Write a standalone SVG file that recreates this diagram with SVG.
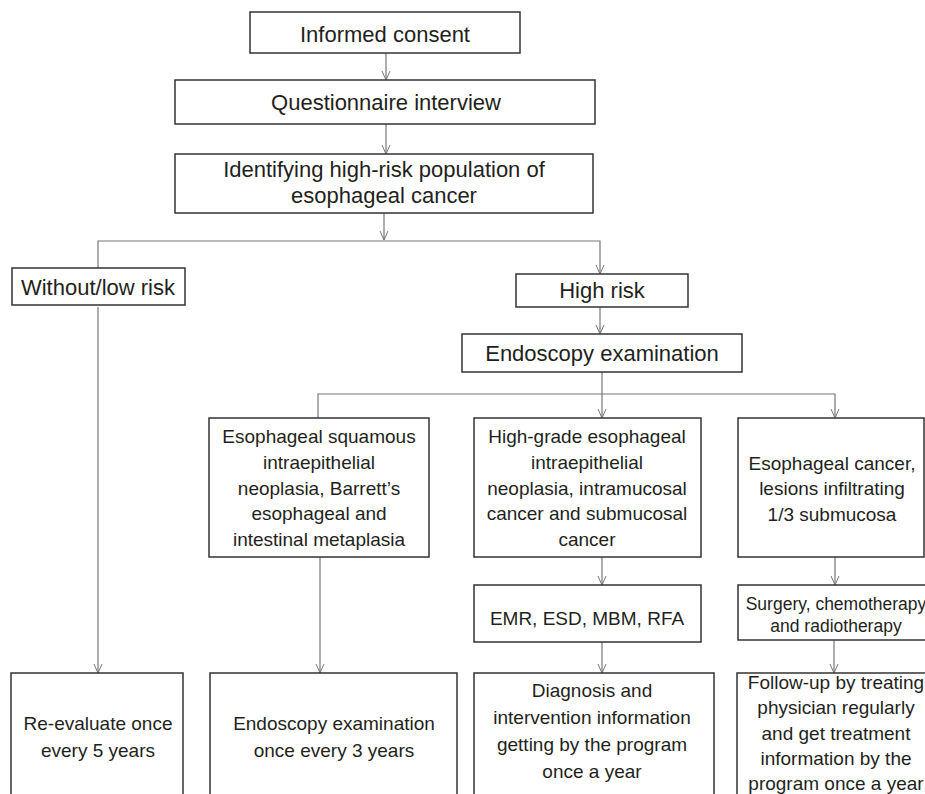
<svg xmlns="http://www.w3.org/2000/svg" width="925" height="794" viewBox="0 0 925 794">
<defs>
<marker id="arr" viewBox="0 0 10 10" refX="10" refY="5" markerWidth="10" markerHeight="10" markerUnits="userSpaceOnUse" orient="auto">
<path d="M1,1 L10,5 L1,9" fill="none" stroke="#777" stroke-width="1"/>
</marker>
<style>
.box{fill:#fff;stroke:#333;stroke-width:1.5}
.t{font-family:"Liberation Sans",Arial,sans-serif;fill:#231f20;text-anchor:middle}
.l{font-size:22px}
.m{font-size:19px}
.s{font-size:17.5px}
.c{fill:none;stroke:#777;stroke-width:1.2}
</style>
</defs>
<rect width="925" height="794" fill="#fff"/>
<g id="connectors">
<line class="c" x1="386" y1="53" x2="386" y2="80" marker-end="url(#arr)"/>
<line class="c" x1="386" y1="124" x2="386" y2="154" marker-end="url(#arr)"/>
<line class="c" x1="384" y1="213" x2="384" y2="240" marker-end="url(#arr)"/>
<polyline class="c" points="98,268 98,241 600,241 600,274" marker-end="url(#arr)"/>
<line class="c" x1="600" y1="307" x2="600" y2="334" marker-end="url(#arr)"/>
<line class="c" x1="602" y1="372" x2="602" y2="418" marker-end="url(#arr)"/>
<polyline class="c" points="318,418 318,394 835,394 835,418" marker-end="url(#arr)"/>
<line class="c" x1="98" y1="307" x2="98" y2="673" marker-end="url(#arr)"/>
<line class="c" x1="320" y1="557" x2="320" y2="673" marker-end="url(#arr)"/>
<line class="c" x1="602" y1="557" x2="602" y2="585" marker-end="url(#arr)"/>
<line class="c" x1="835" y1="557" x2="835" y2="585" marker-end="url(#arr)"/>
<line class="c" x1="602" y1="642" x2="602" y2="673" marker-end="url(#arr)"/>
<line class="c" x1="834" y1="640" x2="834" y2="673" marker-end="url(#arr)"/>
</g>
<g id="n1"><rect class="box" x="250" y="12" width="270" height="41"/><text class="t l" x="385" y="42">Informed consent</text></g>
<g id="n2"><rect class="box" x="175" y="80" width="420" height="44"/><text class="t l" x="386" y="110">Questionnaire interview</text></g>
<g id="n3"><rect class="box" x="175" y="154" width="418" height="59"/><text class="t l" x="384" y="177">Identifying high-risk population of</text><text class="t l" x="384" y="203">esophageal cancer</text></g>
<g id="n4"><rect class="box" x="12" y="268" width="173" height="37"/><text class="t l" x="98" y="295">Without/low risk</text></g>
<g id="n5"><rect class="box" x="516" y="274" width="172" height="33"/><text class="t l" x="602" y="298">High risk</text></g>
<g id="n6"><rect class="box" x="462" y="334" width="280" height="38"/><text class="t l" x="602" y="361">Endoscopy examination</text></g>
<g id="n7"><rect class="box" x="209" y="418" width="220" height="139"/>
<text class="t m" x="319" y="443">Esophageal squamous</text>
<text class="t m" x="319" y="469">intraepithelial</text>
<text class="t m" x="319" y="495">neoplasia, Barrett’s</text>
<text class="t m" x="319" y="520">esophageal and</text>
<text class="t m" x="319" y="546">intestinal metaplasia</text></g>
<g id="n8"><rect class="box" x="474" y="418" width="227" height="139"/>
<text class="t m" x="587" y="443">High-grade esophageal</text>
<text class="t m" x="587" y="469">intraepithelial</text>
<text class="t m" x="587" y="495">neoplasia, intramucosal</text>
<text class="t m" x="587" y="520">cancer and submucosal</text>
<text class="t m" x="587" y="546">cancer</text></g>
<g id="n9"><rect class="box" x="738" y="418" width="186" height="139"/>
<text class="t m" x="832" y="470">Esophageal cancer,</text>
<text class="t m" x="832" y="495">lesions infiltrating</text>
<text class="t m" x="832" y="521">1/3 submucosa</text></g>
<g id="n10"><rect class="box" x="474" y="585" width="227" height="57"/><text class="t m" x="587" y="625">EMR, ESD, MBM, RFA</text></g>
<g id="n11"><rect class="box" x="738" y="585" width="200" height="55"/>
<text class="t s" x="836" y="610">Surgery, chemotherapy</text>
<text class="t s" x="836" y="632">and radiotherapy</text></g>
<g id="n12"><rect class="box" x="11" y="673" width="172" height="140"/>
<text class="t m" x="98" y="730">Re-evaluate once</text>
<text class="t m" x="98" y="757">every 5 years</text></g>
<g id="n13"><rect class="box" x="210" y="673" width="247" height="140"/>
<text class="t m" x="334" y="730">Endoscopy examination</text>
<text class="t m" x="334" y="757">once every 3 years</text></g>
<g id="n14"><rect class="box" x="474" y="673" width="240" height="140"/>
<text class="t m" x="592" y="697">Diagnosis and</text>
<text class="t m" x="592" y="724">intervention information</text>
<text class="t m" x="592" y="751">getting by the program</text>
<text class="t m" x="592" y="778">once a year</text></g>
<g id="n15"><rect class="box" x="737" y="673" width="200" height="140"/>
<text class="t m" x="836" y="689">Follow-up by treating</text>
<text class="t m" x="836" y="714">physician regularly</text>
<text class="t m" x="836" y="740">and get treatment</text>
<text class="t m" x="836" y="765">information by the</text>
<text class="t m" x="836" y="790">program once a year</text></g>
</svg>
